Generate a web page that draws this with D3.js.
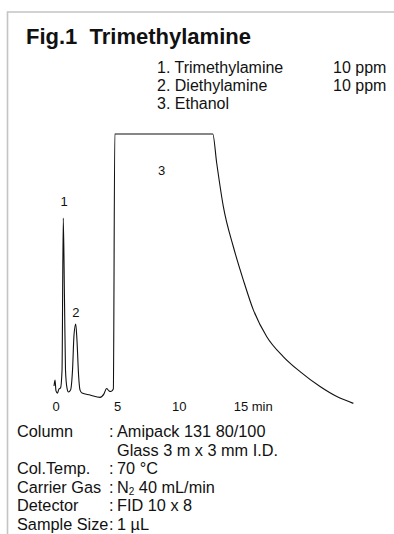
<!DOCTYPE html>
<html>
<head>
<meta charset="utf-8">
<script src="https://cdn.jsdelivr.net/npm/d3@7"></script>
<style>
  html, body { margin: 0; padding: 0; background: #fff; }
  svg { display: block; font-family: "Liberation Sans", Arial, sans-serif; }
  text { white-space: pre; fill: #111; }
</style>
</head>
<body>
<div id="chart"></div>
<script>
// chromatogram trace (min, % of full scale)
const times = [-0.12, -0.04, 0.04, 0.16, 0.28, 0.41, 0.53, 0.63, 0.73, 0.81, 0.93, 1.05,
  1.22, 1.38, 1.50, 1.64, 1.74, 1.87, 1.99, 2.15, 2.80, 3.61, 3.93, 4.14, 4.34, 4.50,
  4.69, 4.81, 12.75, 13.07, 13.61, 14.42, 15.23, 16.04, 17.13, 18.48, 19.83, 21.45, 22.81, 24.15];
const signal = [7.0, 9.2, 5.2, 4.4, 5.9, 6.3, 12.9, 69.0, 38.7, 12.9, 6.3, 4.8,
  5.5, 12.9, 25.8, 29.9, 24.0, 11.1, 5.5, 4.4, 3.7, 2.8, 4.1, 6.1, 5.2, 5.0,
  5.9, 100, 100, 89.3, 73.2, 58.4, 46.1, 35.1, 25.2, 17.8, 12.3, 6.8, 3.1, 0.6];

// peak labels
const peakNames = ['1', '2', '3'];
const peakTimes = [0.7, 1.66, 8.6];
const peakLevels = [73.5, 32.5, 85];

const tickValues = [0, 5, 10, 15];
const tickLabels = ['0', '5', '10', '15 min'];

const title = 'Fig.1  Trimethylamine';
const compounds = ['1. Trimethylamine', '2. Diethylamine', '3. Ethanol'];
const amounts = ['10 ppm', '10 ppm', ''];

const condLabels = ['Column', '', 'Col.Temp.', 'Carrier Gas', 'Detector', 'Sample Size'];
const condValues = ['Amipack 131 80/100', 'Glass 3 m x 3 mm I.D.', '70 °C', 'N|2| 40 mL/min', 'FID 10 x 8', '1 µL'];

const W = 394, H = 534;
const svg = d3.select('#chart').append('svg').attr('width', W).attr('height', H);

// frame lines (top and left)
svg.append('path')
  .attr('d', `M7.5,${H} V12 H${W}`)
  .attr('fill', 'none')
  .attr('stroke', '#c4c4c4')
  .attr('stroke-width', 1.6);

svg.append('text')
  .attr('x', 26).attr('y', 43.5)
  .attr('font-size', 22).attr('font-weight', 'bold')
  .text(title);

const legend = svg.append('g').attr('font-size', 16);
compounds.forEach((c, i) => {
  legend.append('text').attr('x', 157).attr('y', 73 + i * 18).text(c);
  legend.append('text').attr('x', 333).attr('y', 73 + i * 18).text(amounts[i]);
});

const x = d3.scaleLinear().domain([0, 15]).range([55.5, 240.5]);
const y = d3.scaleLinear().domain([0, 100]).range([405, 134]);

const pts = times.map((t, i) => [t, signal[i]]);
const line = d3.line()
  .x(d => x(d[0]))
  .y(d => y(d[1]))
  .curve(d3.curveMonotoneX);

svg.append('path')
  .datum(pts)
  .attr('d', line)
  .attr('fill', 'none')
  .attr('stroke', '#111')
  .attr('stroke-width', 1.1)
  .attr('stroke-linejoin', 'round');

svg.selectAll('.peak')
  .data(peakNames)
  .join('text')
  .attr('class', 'peak')
  .attr('x', (d, i) => x(peakTimes[i]))
  .attr('y', (d, i) => y(peakLevels[i]))
  .attr('text-anchor', 'middle')
  .attr('font-size', 13)
  .text(d => d);

// time axis: labels only
const axis = d3.axisBottom(x)
  .tickValues(tickValues)
  .tickSize(0)
  .tickFormat((d, i) => tickLabels[i]);
const gx = svg.append('g').attr('transform', 'translate(0,397)').call(axis);
gx.select('.domain').remove();
gx.selectAll('text')
  .attr('font-size', 13)
  .attr('font-family', '"Liberation Sans", Arial, sans-serif')
  .attr('fill', '#111')
  .attr('dy', '0.85em')
  .attr('text-anchor', (d, i) => i === tickValues.length - 1 ? 'start' : 'middle')
  .attr('dx', (d, i) => i === tickValues.length - 1 ? -7.3 : 0);

// conditions
const cond = svg.append('g').attr('font-size', 16.3);
condLabels.forEach((lab, i) => {
  const yy = 437 + i * 18.5;
  cond.append('text').attr('x', 17).attr('y', yy).text(lab);
  if (lab) cond.append('text').attr('x', 109).attr('y', yy).text(':');
  const t = cond.append('text').attr('x', 117).attr('y', yy);
  condValues[i].split('|').forEach((part, k) => {
    const sp = t.append('tspan').text(part);
    if (k === 1) sp.attr('font-size', 10).attr('dy', 2);
    if (k === 2) sp.attr('dy', -2);
  });
});
</script>
</body>
</html>
